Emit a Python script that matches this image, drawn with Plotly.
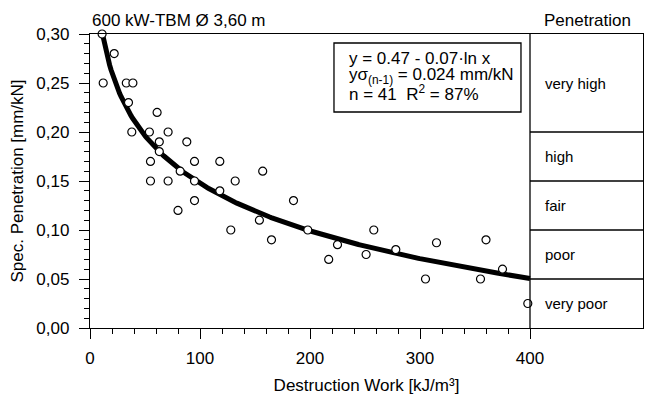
import numpy as np
import plotly.graph_objects as go

# Data
destruction_work = [11, 22, 12, 33, 39, 35, 61, 38, 54, 71, 63, 88, 63, 55, 95, 118, 82, 157,
                    55, 71, 95, 118, 132, 95, 80, 154, 185, 128, 165, 198, 217, 225, 251, 258,
                    278, 305, 315, 355, 360, 375, 398]
spec_penetration = [0.30, 0.28, 0.25, 0.25, 0.25, 0.23, 0.22, 0.20, 0.20, 0.20, 0.19, 0.19, 0.18,
                    0.17, 0.17, 0.17, 0.16, 0.16, 0.15, 0.15, 0.15, 0.14, 0.15, 0.13, 0.12, 0.11,
                    0.13, 0.10, 0.09, 0.10, 0.07, 0.085, 0.075, 0.10, 0.08, 0.05, 0.087, 0.05,
                    0.09, 0.06, 0.025]

# Regression y = a - b * ln x
fit_a = 0.47
fit_b = 0.07
fit_x_start = 11.3
fit_x_end = 400

class_labels = ["very high", "high", "fair", "poor", "very poor"]
class_bounds = [0.30, 0.20, 0.15, 0.10, 0.05, 0.00]

x_ticks = [0, 100, 200, 300, 400]
y_ticks = [0.00, 0.05, 0.10, 0.15, 0.20, 0.25, 0.30]

x_max_plot = 400
x_right = (643 - 90) / 1.1  # right edge of penetration table in data units

fit_x = np.linspace(fit_x_start, fit_x_end, 300)
fit_y = fit_a - fit_b * np.log(fit_x)

fig = go.Figure()
fig.add_trace(go.Scatter(x=fit_x, y=fit_y, mode="lines",
                         line=dict(color="black", width=5), hoverinfo="skip",
                         showlegend=False))
fig.add_trace(go.Scatter(x=destruction_work, y=spec_penetration, mode="markers",
                         marker=dict(symbol="circle", size=8, color="white",
                                     line=dict(color="black", width=1.2)),
                         cliponaxis=False, showlegend=False))

font_family = "Liberation Sans, Arial, sans-serif"
line_w = 1.3
fs = 17

shapes = []
# vertical divider at x=400
shapes.append(dict(type="line", xref="x", yref="y", x0=x_max_plot, x1=x_max_plot,
                   y0=0, y1=0.30, line=dict(color="black", width=line_w)))
for b in class_bounds[1:-1]:
    shapes.append(dict(type="line", xref="x", yref="y", x0=x_max_plot, x1=x_right,
                       y0=b, y1=b, line=dict(color="black", width=line_w)))
# equation box
shapes.append(dict(type="rect", xref="x", yref="y", x0=221.8, x1=391.8, y0=0.2204, y1=0.2908,
                   line=dict(color="black", width=line_w), fillcolor="white"))

annotations = []
for i, lab in enumerate(class_labels):
    ymid = (class_bounds[i] + class_bounds[i + 1]) / 2
    annotations.append(dict(x=412, y=ymid, xref="x", yref="y", text=lab, showarrow=False,
                            xanchor="left", yanchor="middle",
                            font=dict(size=15, family=font_family, color="black")))
annotations.append(dict(xref="x", x=(587 - 90) / 1.1, yref="paper", y=1.0, yshift=2,
                        yanchor="bottom", xanchor="center", text="Penetration",
                        showarrow=False,
                        font=dict(size=fs, family=font_family, color="black")))
annotations.append(dict(xref="x", x=0, yref="paper", y=1.0, yshift=2, yanchor="bottom",
                        xanchor="left", text="600 kW-TBM Ø 3,60 m", showarrow=False,
                        font=dict(size=fs, family=font_family, color="black")))
eq_lines = ["y = 0.47 - 0.07·ln x",
            "yσ<sub>(n-1)</sub> = 0.024 mm/kN",
            "n = 41  R<sup>2</sup> = 87%"]
eq_y = [58, 76, 93]
for t, py in zip(eq_lines, eq_y):
    annotations.append(dict(xref="x", x=(347 - 90) / 1.1, yref="y", y=(328 - py) / 980,
                            xanchor="left", yanchor="middle", text=t, showarrow=False,
                            font=dict(size=fs, family=font_family, color="black")))

fig.update_layout(
    width=645, height=398,
    margin=dict(l=90, r=2, t=34, b=70),
    plot_bgcolor="white", paper_bgcolor="white",
    separators=",.",
    font=dict(family=font_family, size=fs, color="black"),
    shapes=shapes, annotations=annotations,
    xaxis=dict(range=[0, x_right], tickvals=x_ticks, ticks="outside", ticklen=10,
               tickwidth=line_w, tickcolor="black", showline=True, linecolor="black",
               linewidth=line_w, mirror=True, showgrid=False, zeroline=False,
               tickfont=dict(size=fs), ticklabelstandoff=4,
               minor=dict(tickvals=[v for v in range(20, 400, 20) if v % 100 != 0],
                          ticks="outside", ticklen=5, tickwidth=line_w, tickcolor="black",
                          showgrid=False),
               title=dict(text="Destruction Work [kJ/m³]", standoff=12,
                          font=dict(size=fs))),
    yaxis=dict(range=[0, 0.30], tickvals=y_ticks, tickformat=".2f", ticks="outside",
               ticklen=10, tickwidth=line_w, tickcolor="black", showline=True,
               linecolor="black", linewidth=line_w, mirror=True, showgrid=False,
               zeroline=False, tickfont=dict(size=fs), ticklabelstandoff=6,
               minor=dict(dtick=0.01, tick0=0, ticks="outside", ticklen=5,
                          tickwidth=line_w, tickcolor="black", showgrid=False),
               title=dict(text="Spec. Penetration [mm/kN]", standoff=8,
                          font=dict(size=fs))),
)

fig.write_html("out.html")
